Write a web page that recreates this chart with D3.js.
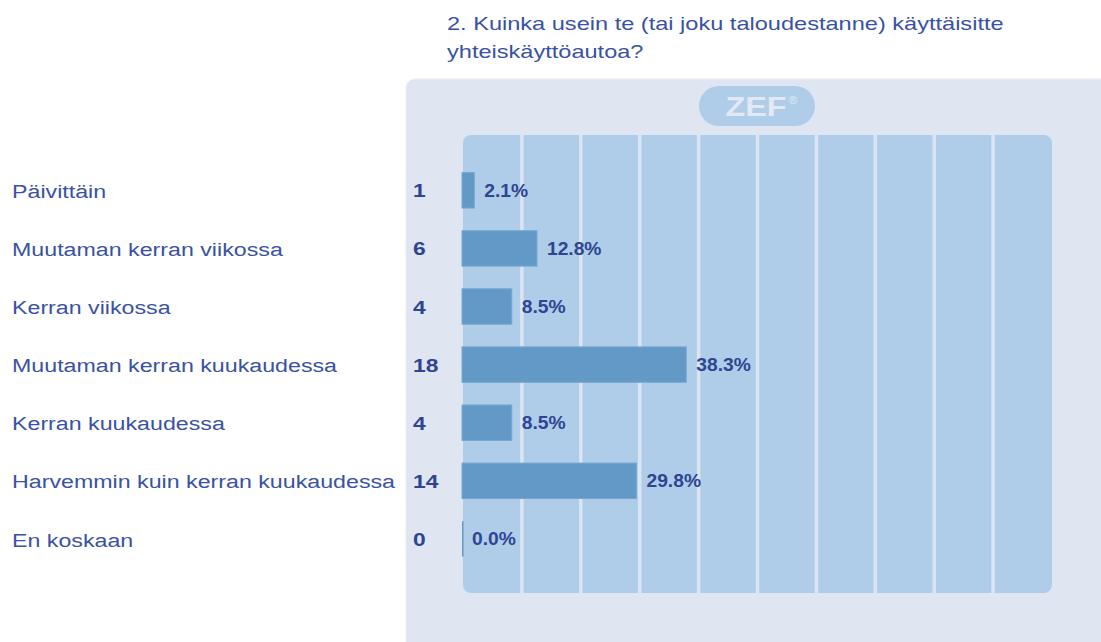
<!DOCTYPE html>
<html><head><meta charset="utf-8">
<script src="https://cdn.jsdelivr.net/npm/d3@7"></script>
<style>html,body{margin:0;padding:0;background:#fff;overflow:hidden}</style>
</head><body><div id="chart"></div>
<script>
const categories = ["Päivittäin","Muutaman kerran viikossa","Kerran viikossa","Muutaman kerran kuukaudessa","Kerran kuukaudessa","Harvemmin kuin kerran kuukaudessa","En koskaan"];
const counts = [1,6,4,18,4,14,0];
const percents = [2.1,12.8,8.5,38.3,8.5,29.8,0.0];
const titleLines = ["2. Kuinka usein te (tai joku taloudestanne) käyttäisitte","yhteiskäyttöautoa?"];
const gridTicks = [1,2,3,4,5,6,7,8,9];

const W = 1101, H = 642;
const SX = 1.2; // horizontal glyph stretch
const svg = d3.select("#chart").append("svg").attr("width", W).attr("height", H)
  .style("font-family", "'Liberation Sans', Arial, sans-serif");
svg.append("rect").attr("width", W).attr("height", H).attr("fill", "#fff");

const plot = {x0: 463, x1: 1052, y0: 135, y1: 593};
const x = d3.scaleLinear().domain([0, 100]).range([462, 1047.5]);
const gx = d3.scaleLinear().domain([0, 10]).range([plot.x0, plot.x1]);
const y = d3.scaleBand().domain(categories).range([161.25, 567.95]).paddingInner(0.39).paddingOuter(0.195);
const cy = d => y(d) + y.bandwidth() / 2;

// outer panel
svg.append("rect").attr("x", 406).attr("y", 79).attr("width", 720).attr("height", 600)
  .attr("rx", 9).attr("fill", "#dfe6f2").attr("stroke", "#e8edf6").attr("stroke-width", 1);

// logo pill
svg.append("rect").attr("x", 699).attr("y", 86).attr("width", 116).attr("height", 40)
  .attr("rx", 20).attr("fill", "#afcde9");
svg.append("text").attr("transform", `translate(756,116) scale(${SX},1)`)
  .attr("text-anchor", "middle").attr("font-weight", "bold").attr("font-size", 27)
  .attr("fill", "#e2e9f5").text("ZEF");
svg.append("text").attr("transform", `translate(793,104) scale(${SX},1)`)
  .attr("text-anchor", "middle").attr("font-size", 10).attr("fill", "#e2e9f5").text("®");

// plot area
svg.append("rect").attr("x", plot.x0).attr("y", plot.y0).attr("width", plot.x1 - plot.x0)
  .attr("height", plot.y1 - plot.y0).attr("rx", 8).attr("fill", "#afcde9");
svg.append("g").selectAll("line").data(gridTicks).join("line")
  .attr("x1", d => gx(d)).attr("x2", d => gx(d)).attr("y1", plot.y0).attr("y2", plot.y1)
  .attr("stroke", "#dbe4f2").attr("stroke-width", 3.5);

// bars
svg.append("g").selectAll("rect").data(categories).join("rect")
  .attr("x", x(0)).attr("y", d => y(d))
  .attr("width", (d, i) => Math.max(1.5, x(percents[i]) - x(0)))
  .attr("height", y.bandwidth())
  .attr("fill", "#6399c6")
  .attr("stroke", (d, i) => percents[i] > 0 ? "#76a7d1" : "none").attr("stroke-width", 1);

// percent labels
svg.append("g").selectAll("text").data(categories).join("text")
  .attr("transform", (d, i) => `translate(${x(percents[i]) + 10},${cy(d) + 6.3}) scale(1.1,1)`)
  .attr("font-weight", "bold").attr("font-size", 17.5).attr("fill", "#2e4591")
  .text((d, i) => percents[i].toFixed(1) + "%");

// counts
svg.append("g").selectAll("text").data(categories).join("text")
  .attr("transform", d => `translate(413,${cy(d) + 7}) scale(${SX},1)`)
  .attr("font-weight", "bold").attr("font-size", 19).attr("fill", "#2e4591")
  .text((d, i) => counts[i]);

// category labels
svg.append("g").selectAll("text").data(categories).join("text")
  .attr("transform", d => `translate(12,${cy(d) + 7.6}) scale(1.235,1)`)
  .attr("font-size", 18.8).attr("fill", "#3a52a2")
  .text(d => d);

// title
svg.append("g").selectAll("text").data(titleLines).join("text")
  .attr("transform", (d, i) => `translate(447,${30 + i * 27.5}) scale(1.295,1)`)
  .attr("font-size", 18.2).attr("fill", "#3a52a2")
  .text(d => d);
</script></body></html>
